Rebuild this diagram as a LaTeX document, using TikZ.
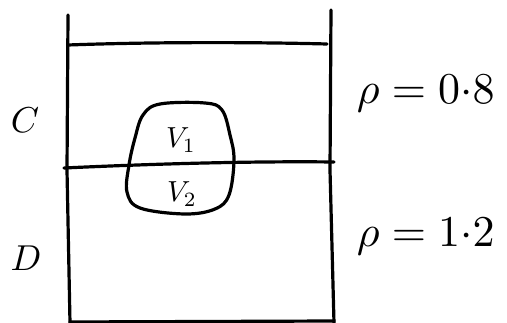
\documentclass[tikz,border=0pt]{standalone}
\begin{document}
\begin{tikzpicture}[x=1pt,y=-1pt,
  ink/.style={line width=3.2pt,line cap=round,line join=round},
  lbl/.style={scale=3.6,inner sep=0pt},
  rlbl/.style={scale=4.4,inner sep=0pt,anchor=west},
  vlbl/.style={scale=2.9,inner sep=0pt}]
\useasboundingbox (0,0) rectangle (507,323);
% walls
\draw[ink] (68,15) -- (67,170) -- (70,323);
\draw[ink] (331,10) -- (330,170) -- (334,323);
% top line
\draw[ink] (68,45) .. controls (150,42) and (250,42) .. (327,44);
% middle line (interface)
\draw[ink] (64,168) .. controls (150,164) and (250,161) .. (334,162);
% bottom line
\draw[ink] (70,322) -- (334,321);
% blob
\draw[ink] plot[smooth cycle,tension=0.6] coordinates {
  (143,115) (160,104) (205,103) (222,110) (230,135) (234,160)
  (229,195) (215,209) (185,214) (140,208) (127,192) (129,165) (135,138)};
% labels
\node[vlbl] (v1) at (181,140) {$V_1$};
\node[vlbl] (v2) at (182,194) {$V_2$};
\node[lbl] (c) at (25,120) {$C$};
\node[lbl] (d) at (26,258) {$D$};
\node[rlbl] (r1) at (356,94) {$\rho = 0{\cdot}8$};
\node[rlbl] (r2) at (356,237) {$\rho = 1{\cdot}2$};
\end{tikzpicture}
\end{document}
